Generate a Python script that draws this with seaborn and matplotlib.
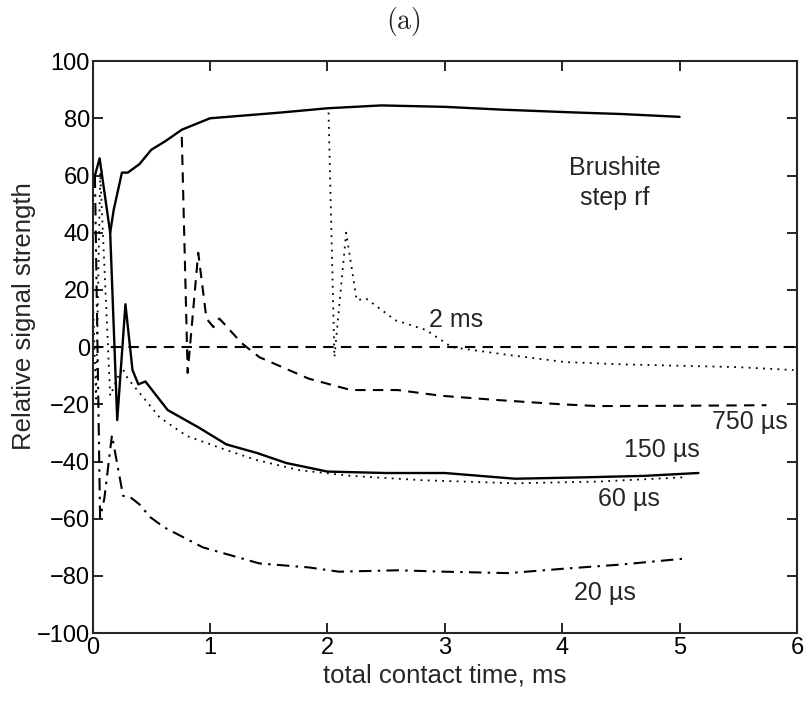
import numpy as np
import pandas as pd
import matplotlib
matplotlib.use("Agg")
import matplotlib.pyplot as plt
import seaborn as sns

# ---- data ----
top_x = [0.15, 0.18, 0.25, 0.30, 0.40, 0.50, 0.62, 0.76, 1.0, 1.3, 1.6, 2.0, 2.46, 3.0, 3.5, 4.13, 4.5, 5.0]
top_y = [40, 48, 61, 61, 64, 69, 72, 76, 80, 81, 82, 83.5, 84.5, 84, 83, 82, 81.5, 80.5]

us150_x = [0.0, 0.02, 0.06, 0.15, 0.21, 0.28, 0.34, 0.39, 0.45, 0.64, 0.9, 1.14, 1.4, 1.65, 2.0, 2.5, 3.0, 3.6, 4.2, 4.7, 5.16]
us150_y = [60, 60, 66, 40, -25.5, 15, -8, -13, -12, -22, -28, -34, -37, -40.5, -43.5, -44, -44, -46, -45.5, -45, -44]

us60_x = [0.0, 0.03, 0.065, 0.15, 0.25, 0.30, 0.36, 0.57, 0.8, 1.14, 1.4, 1.76, 2.2, 2.8, 3.6, 4.3, 5.04]
us60_y = [20, -18, 61, -17, -7, -11, -14, -24.5, -31, -36, -39.5, -43, -45, -46.5, -47.6, -47, -45.5]

us20_x = [0.02, 0.064, 0.10, 0.165, 0.26, 0.32, 0.40, 0.49, 0.61, 0.94, 1.42, 1.84, 2.1, 2.6, 3.0, 3.54, 4.0, 4.5, 5.02]
us20_y = [60, -59.6, -53, -30.8, -52, -52.4, -55, -59.4, -63, -70, -75.6, -77, -78.5, -78, -78.5, -79, -77.5, -76, -74]

us750_x = [0.76, 0.81, 0.90, 0.97, 1.03, 1.08, 1.27, 1.42, 1.84, 2.2, 2.6, 2.97, 3.45, 4.0, 4.3, 5.0, 5.74]
us750_y = [73.5, -9, 33, 10, 7, 10, 1.4, -3.5, -11, -15, -15, -17, -18.5, -20, -20.6, -20.5, -20.3]

ms2_x = [2.01, 2.06, 2.16, 2.25, 2.33, 2.58, 2.84, 3.06, 3.5, 4.02, 4.5, 5.0, 5.5, 5.97]
ms2_y = [82, -3.5, 40, 16.4, 17, 9.4, 6, 0, -2.5, -5.2, -6, -6.5, -7, -8]

zero_x = [0, 6]
zero_y = [0, 0]

labels = ["Brushite\nstep rf", "2 ms", "750 \u00b5s", "150 \u00b5s", "60 \u00b5s", "20 \u00b5s"]
label_x = [4.45, 3.1, 5.6, 4.85, 4.57, 4.36]
label_y = [57.5, 9.4, -26, -36, -53, -86]

xticks = [0, 1, 2, 3, 4, 5, 6]
yticks = [-100, -80, -60, -40, -20, 0, 20, 40, 60, 80, 100]

# ---- style ----
sns.set_style("ticks")
plt.rcParams["font.family"] = ["Liberation Sans", "DejaVu Sans"]
plt.rcParams["mathtext.fontset"] = "cm"
plt.rcParams["xtick.direction"] = "in"
plt.rcParams["ytick.direction"] = "in"

fig = plt.figure(figsize=(8.12, 7.02), dpi=100)
ax = fig.add_axes([0.114, 0.098, 0.8675, 0.815])

k = "black"
def draw(xs, ys, ls, lw=1.5):
    df = pd.DataFrame({"x": xs, "y": ys})
    sns.lineplot(data=df, x="x", y="y", ax=ax, color=k, linestyle=ls, linewidth=lw,
                 sort=False, estimator=None)

draw(top_x, top_y, "-", 1.7)
draw(us150_x, us150_y, "-", 1.7)
draw(us60_x, us60_y, (0, (1, 3)), 1.3)
draw(us20_x, us20_y, (0, (6, 3, 1.2, 3)), 1.5)
draw(us750_x, us750_y, (0, (5, 3.5)), 1.5)
draw(ms2_x, ms2_y, (0, (1, 3)), 1.3)
draw(zero_x, zero_y, (0, (5, 3.5)), 1.5)

for t, xx, yy in zip(labels, label_x, label_y):
    ax.text(xx, yy, t, ha="center", va="center", fontsize=18, linespacing=1.3)

ax.set_xlim(0, 6)
ax.set_ylim(-100, 100)
ax.set_xticks(xticks)
ax.set_yticks(yticks)
ax.set_xticklabels([str(v) for v in xticks])
ax.set_yticklabels([str(v).replace("-", "\u2212") for v in yticks])
ax.tick_params(axis="both", which="both", top=True, right=True, length=7, width=1.2,
               labelsize=17, pad=3, colors="black")
ax.tick_params(axis="y", pad=2)
for s in ax.spines.values():
    s.set_linewidth(1.5)
    s.set_visible(True)
ax.set_xlabel("total contact time, ms", fontsize=18.5, labelpad=3)
ax.set_ylabel("Relative signal strength", fontsize=18.5, labelpad=0)
ax.yaxis.set_label_coords(-0.081, 0.555)
fig.text(0.497, 1 - 21 / 702, r"$\mathrm{(a)}$", fontsize=20, ha="center", va="center")

fig.savefig("out.png", dpi=100)
